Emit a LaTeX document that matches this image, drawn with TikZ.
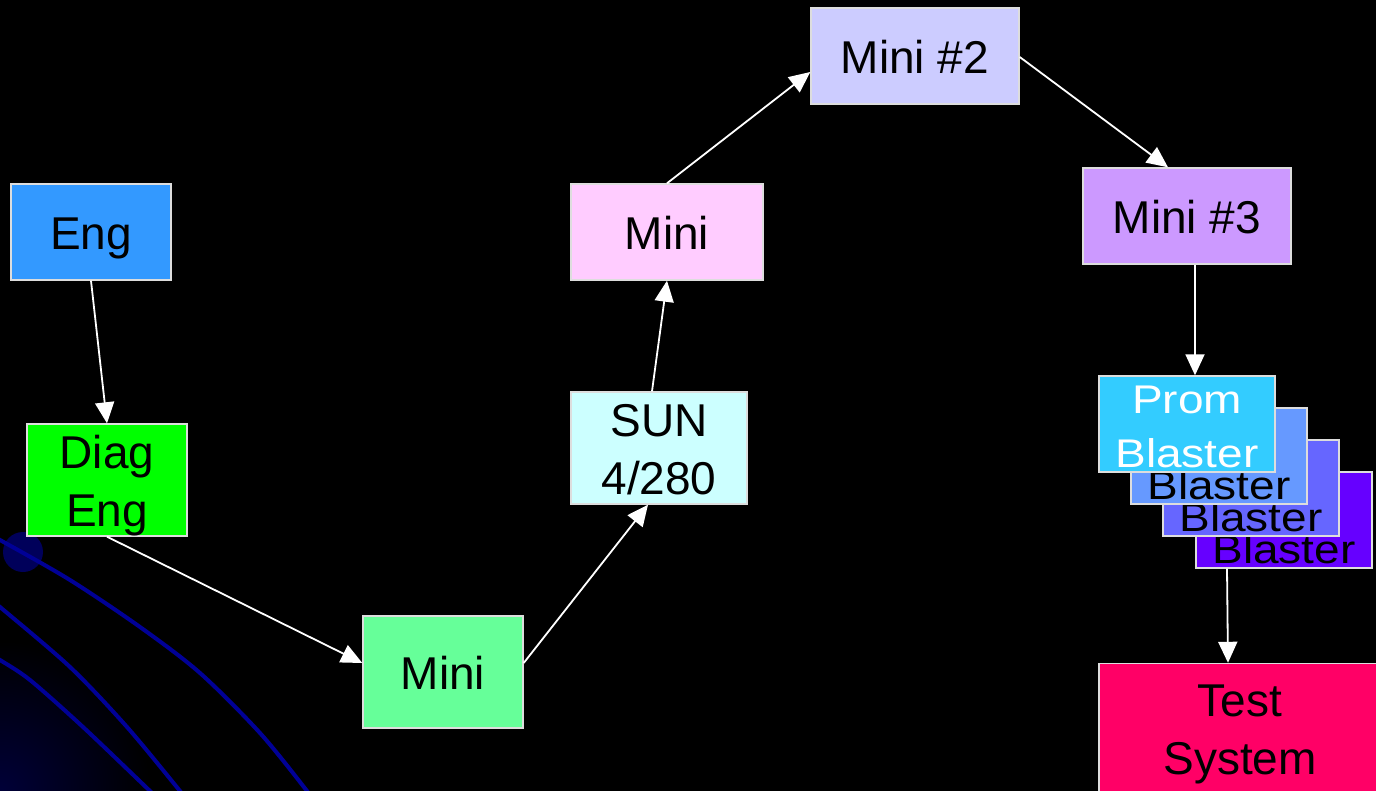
\documentclass[tikz,border=0pt]{standalone}
\usepackage{fontspec}
\setmainfont{Liberation Sans}
\usetikzlibrary{arrows.meta,calc}

\definecolor{edgegray}{HTML}{DDDDDD}
\definecolor{decoblue}{HTML}{000096}
\definecolor{dotblue}{HTML}{00005A}
\definecolor{glowblue}{HTML}{000038}
\definecolor{engblue}{HTML}{3399FF}
\definecolor{diaggreen}{HTML}{00FF00}
\definecolor{minigreen}{HTML}{66FF99}
\definecolor{suncyan}{HTML}{CCFFFF}
\definecolor{minipink}{HTML}{FFCCFF}
\definecolor{minilav}{HTML}{CCCCFF}
\definecolor{minipurple}{HTML}{CC99FF}
\definecolor{promA}{HTML}{33CCFF}
\definecolor{promB}{HTML}{6699FF}
\definecolor{promC}{HTML}{6666FF}
\definecolor{promD}{HTML}{6600FF}
\definecolor{testred}{HTML}{FF0066}

\newcommand\diagfont{\fontsize{46pt}{58pt}\selectfont}

\tikzset{
  box/.style={draw=edgegray, line width=1.4pt, inner sep=0pt, font=\diagfont},
  oneline/.style={text height=35pt, text depth=0pt},
  twoline/.style={align=center, text height=93pt, text depth=0pt},
  promtext/.style={font=\fontsize{46pt}{63pt}\selectfont, align=center,
                   text height=98pt, text depth=0pt, inner sep=0pt, transform shape},
  blastertext/.style={font=\diagfont, text height=35pt, text depth=0pt,
                   inner sep=0pt, transform shape},
  conn/.style={draw=white, line width=1.8pt, -{Triangle[length=21pt,width=19pt]}},
  deco/.style={draw=decoblue, line width=4pt},
}

\begin{document}
\begin{tikzpicture}[x=1pt, y=-1pt]
\useasboundingbox (0,0) rectangle (1376,791);
\fill[black] (0,0) rectangle (1376,791);

% backdrop: corner glow, dot and sweeping lines
\begin{scope}
  \clip (0,0) rectangle (1376,791);
  \shade[inner color=glowblue, outer color=black] (0,791) circle[radius=150pt];
  \fill[dotblue] (23,552) circle[radius=20pt];
  \draw[deco] plot[smooth] coordinates {(-10,535) (0,540) (70,580) (140,627) (200,673) (260,733) (307,791) (320,810)};
  \draw[deco] plot[smooth] coordinates {(-10,599) (0,607) (70,667) (127,727) (180,791) (195,810)};
  \draw[deco] plot[smooth] coordinates {(-10,654) (0,660) (30,680) (83,727) (150,791) (170,810)};
\end{scope}

% main chain of machines
\node[box, fill=engblue, minimum width=160pt, minimum height=96pt, oneline] (eng) at (91,232) {Eng};
\node[box, fill=diaggreen, minimum width=160pt, minimum height=112pt, twoline] (diag) at (107,480) {Diag\\Eng};
\node[box, fill=minigreen, minimum width=160pt, minimum height=112pt, oneline] (minia) at (443,672) {Mini};
\node[box, fill=suncyan, minimum width=176pt, minimum height=112pt, twoline] (sun) at (659,448) {SUN\\4/280};
\node[box, fill=minipink, minimum width=192pt, minimum height=96pt, oneline] (minib) at (667,232) {Mini};
\node[box, fill=minilav, minimum width=208pt, minimum height=96pt, oneline] (minic) at (915,56) {Mini \#2};
\node[box, fill=minipurple, minimum width=208pt, minimum height=96pt, oneline] (minid) at (1187,216) {Mini \#3};

% stack of prom blasters, back to front
\node[box, fill=promD, minimum width=176pt, minimum height=96pt] (pbd) at (1284,520) {};
\begin{scope}[shift={(pbd.center)}, yscale=0.87]
  \node[blastertext] (pbdt) at (0,33) {Blaster};
\end{scope}
\node[box, fill=promC, minimum width=176pt, minimum height=96pt] (pbc) at (1251,488) {};
\begin{scope}[shift={(pbc.center)}, yscale=0.87]
  \node[blastertext] (pbct) at (0,33) {Blaster};
\end{scope}
\node[box, fill=promB, minimum width=176pt, minimum height=96pt] (pbb) at (1219,456) {};
\begin{scope}[shift={(pbb.center)}, yscale=0.87]
  \node[blastertext] (pbbt) at (0,33) {Blaster};
\end{scope}
\node[box, fill=promA, minimum width=176pt, minimum height=96pt] (pba) at (1187,424) {};
\begin{scope}[shift={(pba.center)}, yscale=0.87]
  \node[promtext, text=white] (pbat) at (0,1.5) {Prom\\Blaster};
\end{scope}

\begin{scope}
  \clip (0,0) rectangle (1376,791);
  \node[box, fill=testred, minimum width=282pt, minimum height=129pt, twoline] (test) at (1240,728) {Test\\System};
\end{scope}

% connectors
\draw[conn] (eng.south) -- (diag.north);
\draw[conn] (diag.south) -- ([yshift=9pt]minia.west);
\draw[conn] ([yshift=9pt]minia.east) -- ([xshift=-11pt]sun.south);
\draw[conn] ([xshift=-7pt]sun.north) -- (minib.south);
\draw[conn] (minib.north) -- ([yshift=-16pt]minic.west);
\draw[conn] ([yshift=-1pt]minic.east) -- ([xshift=-19pt]minid.north);
\draw[conn] ([xshift=8pt]minid.south) -- ([xshift=8pt]pba.north);
\draw[conn] ([xshift=-57pt]pbd.south) -- ([xshift=-12pt]test.north);
\end{tikzpicture}
\end{document}
